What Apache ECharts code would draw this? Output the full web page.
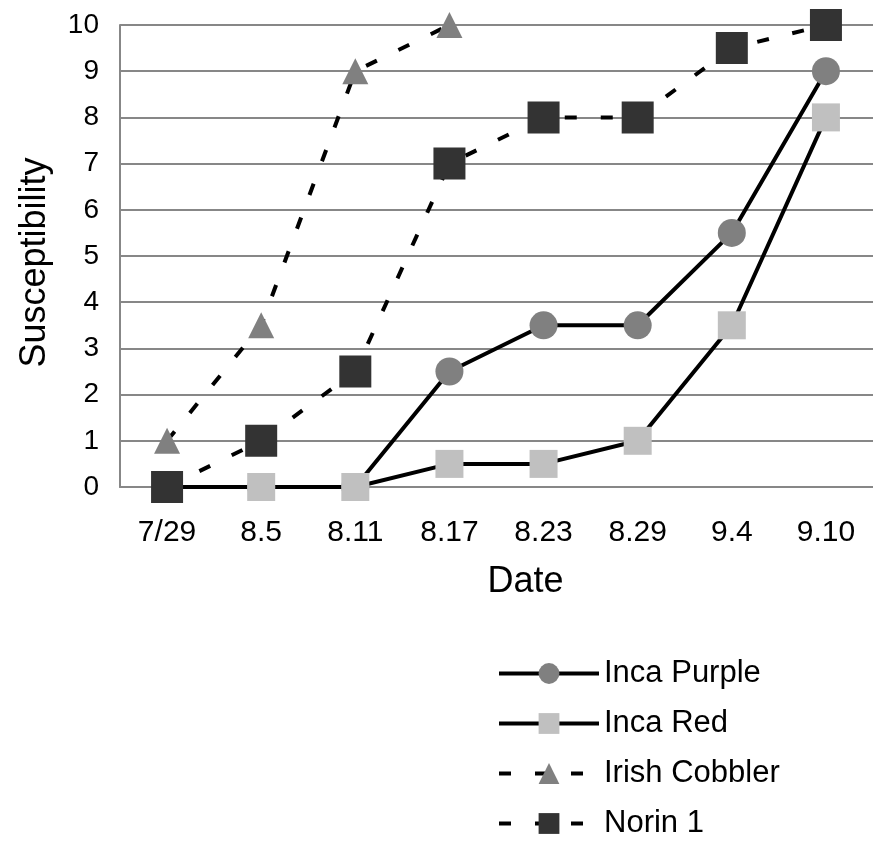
<!DOCTYPE html>
<html>
<head>
<meta charset="utf-8">
<script src="https://cdn.jsdelivr.net/npm/echarts@6/dist/echarts.min.js"></script>
<style>
    html, body { margin: 0; padding: 0; background: #fff; }
    #chart { width: 873px; height: 843px; }
</style>
</head>
<body>
<div id="chart"></div>
<script>
// 数据
const dates = ['7/29', '8.5', '8.11', '8.17', '8.23', '8.29', '9.4', '9.10'];
const yTicks = [0, 10, 1]; // min, max, interval
const incaPurple = [0, 0, 0, 2.5, 3.5, 3.5, 5.5, 9];
const incaRed = [0, 0, 0, 0.5, 0.5, 1, 3.5, 8];
const irishCobbler = [1, 3.5, 9, 10, null, null, null, null];
const norin1 = [0, 1, 2.5, 7, 8, 8, 9.5, 10];

const FONT = '"Liberation Sans", Arial, sans-serif';
const dash = [12, 24];

function initChart() {
    const chartDom = document.getElementById('chart');
    const myChart = echarts.init(chartDom);

    const option = {
        backgroundColor: '#fff',
        animation: false,
        textStyle: { fontFamily: FONT, color: '#000' },
        grid: {
            left: 120,
            top: 25,
            width: 756,
            height: 462
        },
        xAxis: {
            type: 'category',
            data: dates,
            name: 'Date',
            nameLocation: 'middle',
            nameGap: 77,
            nameTextStyle: { fontSize: 36, color: '#000', fontFamily: FONT, padding: [0, 0, 0, 58] },
            axisLine: { lineStyle: { color: '#878787', width: 2 } },
            axisTick: { show: false },
            axisLabel: { color: '#000', fontSize: 30, margin: 31, fontFamily: FONT }
        },
        yAxis: {
            type: 'value',
            min: yTicks[0],
            max: yTicks[1],
            interval: yTicks[2],
            name: 'Susceptibility',
            nameLocation: 'middle',
            nameGap: 67,
            nameTextStyle: { fontSize: 36, color: '#000', fontFamily: FONT, padding: [0, 13, 0, 0] },
            axisLine: { show: true, lineStyle: { color: '#878787', width: 2 } },
            axisTick: { show: false },
            axisLabel: { color: '#000', fontSize: 28, margin: 21, fontFamily: FONT },
            splitLine: { lineStyle: { color: '#878787', width: 2 } }
        },
        legend: {
            orient: 'vertical',
            left: 497,
            top: 658,
            padding: 0,
            itemWidth: 100,
            itemHeight: 26,
            itemGap: 19,
            lineStyle: { width: 4 },
            textStyle: { fontSize: 31, color: '#000', fontFamily: FONT },
            data: ['Inca Purple', 'Inca Red', 'Irish Cobbler', 'Norin 1']
        },
        series: [
            {
                name: 'Inca Purple',
                type: 'line',
                data: incaPurple,
                symbol: 'circle',
                symbolSize: 28,
                itemStyle: { color: '#808080' },
                lineStyle: { color: '#000', width: 4 }
            },
            {
                name: 'Inca Red',
                type: 'line',
                data: incaRed,
                symbol: 'rect',
                symbolSize: 28,
                itemStyle: { color: '#c0c0c0' },
                lineStyle: { color: '#000', width: 4 }
            },
            {
                name: 'Irish Cobbler',
                type: 'line',
                data: irishCobbler,
                symbol: 'triangle',
                symbolSize: 26,
                itemStyle: { color: '#808080' },
                lineStyle: { color: '#000', width: 4, type: dash }
            },
            {
                name: 'Norin 1',
                type: 'line',
                data: norin1,
                symbol: 'rect',
                symbolSize: 32,
                itemStyle: { color: '#333333' },
                lineStyle: { color: '#000', width: 4, type: dash }
            }
        ]
    };

    myChart.setOption(option);
}

initChart();
</script>
</body>
</html>
